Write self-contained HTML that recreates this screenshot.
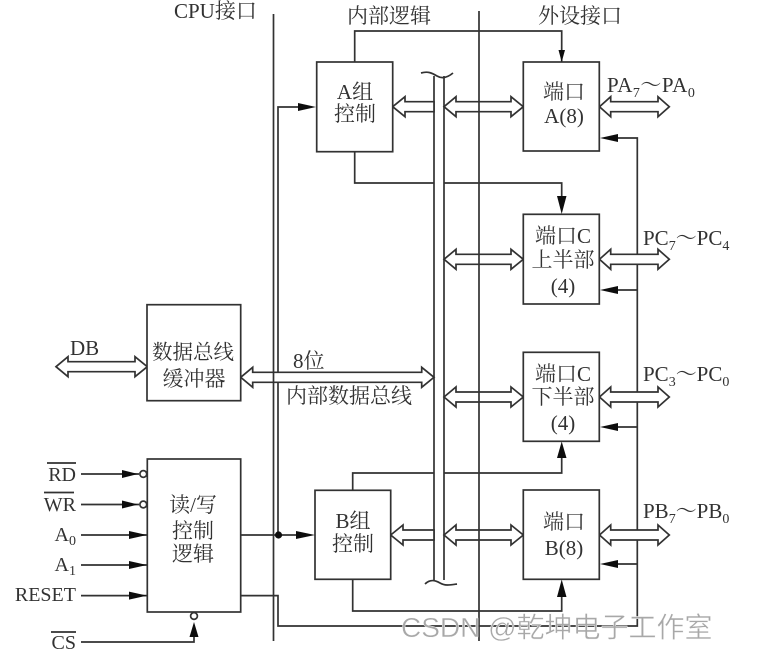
<!DOCTYPE html>
<html>
<head>
<meta charset="utf-8">
<style>
html,body{margin:0;padding:0;background:#fff;width:768px;height:659px;overflow:hidden}
svg{display:block}
text{font-family:"Liberation Serif","Noto Serif CJK SC",serif;font-size:21px;fill:#333}
.l{stroke:#333;stroke-width:1.7;fill:none}
.b{stroke:#333;stroke-width:1.7;fill:#fff}
.h{fill:#111;stroke:none}
.wm{font-family:"Liberation Sans","Noto Sans CJK SC",sans-serif;font-size:28px;fill:#a8a8a8;stroke:#fff;stroke-width:.4}
</style>
</head>
<body>
<svg width="768" height="659" viewBox="0 0 768 659" xmlns="http://www.w3.org/2000/svg">
<defs>
<filter id="s" x="0" y="0" width="100%" height="100%"><feGaussianBlur stdDeviation="0.35"/></filter>
</defs>
<g filter="url(#s)">
<!-- thin connectors -->
<g class="l">
<path d="M354.7 62V31H561.7V62"/>
<path d="M354.7 151V183H434M444 183H561.7V200"/>
<path d="M352.7 490V473H434M444 473H561.7V455"/>
<path d="M352.7 579V611H561.7V595"/>
<path d="M278 535V107H302"/>
<path d="M241 535H302"/>
<path d="M241 595.6H278V626H637.3V138H612"/>
<path d="M612 290H637M612 427H637M612 564H637"/>
<path d="M81 474H139M81 504.5H139M81 535H147M81 565H147M81 595.6H147"/>
<path d="M81 642H194V625"/>
</g>
<!-- bus -->
<g class="l">
<path d="M434 76V580M444 76V580"/>
<path d="M421 73C428 71 432 73 437 76C442 79 447 78 453 73"/>
<path d="M425 584C430 579 435 580 440 583C445 586 450 585 457 584"/>
</g>
<!-- double arrows -->
<g class="b">
<path d="M56 366.7L68 356.7V361.7H135V356.7L147.3 366.7L135 376.7V371.7H68V376.7Z"/>
<path d="M240.7 377.3L252.7 367.3V372.3H421.7V367.3L434 377.3L421.7 387.3V382.3H252.7V387.3Z"/>
<path d="M392.7 106.7L405 96.7V101.7H434V111.7H405V116.7Z"/>
<path d="M390.7 535L403 525V530H434V540H403V545Z"/>
<path d="M444 106.7L456 96.7V101.7H511V96.7L523.3 106.7L511 116.7V111.7H456V116.7Z"/>
<path d="M444 259.3L456 249.3V254.3H511V249.3L523.3 259.3L511 269.3V264.3H456V269.3Z"/>
<path d="M444 397L456 387V392H511V387L523.3 397L511 407V402H456V407Z"/>
<path d="M444 535L456 525V530H511V525L523.3 535L511 545V540H456V545Z"/>
<path d="M599.5 106.7L610.7 96.7V101.7H658V96.7L669.3 106.7L658 116.7V111.7H610.7V116.7Z"/>
<path d="M599.5 259.3L610.7 249.3V254.3H658V249.3L669.3 259.3L658 269.3V264.3H610.7V269.3Z"/>
<path d="M599.5 397L610.7 387V392H658V387L669.3 397L658 407V402H610.7V407Z"/>
<path d="M599.5 535L610.7 525V530H658V525L669.3 535L658 545V540H610.7V545Z"/>
</g>
<!-- system dividers -->
<path class="l" d="M273.5 14V641M479 11V641"/>
<!-- boxes -->
<g class="b">
<rect x="147" y="304.7" width="93.7" height="96"/>
<rect x="147.3" y="459" width="93.4" height="153"/>
<rect x="316.7" y="62" width="76" height="89.7"/>
<rect x="315" y="490.3" width="75.7" height="89"/>
<rect x="523.3" y="62" width="76" height="89"/>
<rect x="523.3" y="214.3" width="76" height="89.7"/>
<rect x="523.3" y="352.3" width="76" height="89"/>
<rect x="523.3" y="490" width="76" height="89.3"/>
</g>
<!-- arrowheads -->
<g class="h">
<path d="M316 107L298 103V111Z"/>
<path d="M315 535L296 531V539Z"/>
<path d="M561.7 214L557 196H566.5Z"/>
<path d="M561.7 62L558.5 50H565Z"/>
<path d="M561.7 441.5L557 458H566.5Z"/>
<path d="M561.7 579.5L557 597H566.5Z"/>
<path d="M600 138L618 134V142Z"/>
<path d="M600 290L618 286V294Z"/>
<path d="M600 427L618 423V431Z"/>
<path d="M600 564L618 560V568Z"/>
<path d="M138 474L122 470V478Z"/>
<path d="M138 504.5L122 500.5V508.5Z"/>
<path d="M147 535L129 531V539Z"/>
<path d="M147 565L129 561V569Z"/>
<path d="M147 595.6L129 591.6V599.6Z"/>
<path d="M194 622L189.5 637H198.5Z"/>
</g>
<circle cx="278.5" cy="535" r="3.6" fill="#111"/>
<g class="b">
<circle cx="143.3" cy="474" r="3.4"/>
<circle cx="143.3" cy="504.5" r="3.4"/>
<circle cx="194" cy="616" r="3.4"/>
</g>
<!-- labels -->
<text x="174" y="18">CPU接口</text>
<text x="347" y="23">内部逻辑</text>
<text x="538" y="23">外设接口</text>

<g text-anchor="middle">
<text x="355" y="99">A组</text>
<text x="355" y="121">控制</text>
<text x="353" y="528">B组</text>
<text x="353" y="551">控制</text>
<text x="564" y="99">端口</text>
<text x="564" y="123">A(8)</text>
<text x="563" y="243">端口C</text>
<text x="563" y="267">上半部</text>
<text x="563" y="293">(4)</text>
<text x="563" y="381">端口C</text>
<text x="563" y="404">下半部</text>
<text x="563" y="430">(4)</text>
<text x="564" y="529">端口</text>
<text x="564" y="555">B(8)</text>
<text x="193" y="359" style="font-size:20.5px">数据总线</text>
<text x="194" y="386">缓冲器</text>
<text x="193" y="512">读/写</text>
<text x="193" y="538">控制</text>
<text x="193" y="561">逻辑</text>
</g>

<text x="70" y="355">DB</text>
<text x="293" y="368">8位</text>
<text x="286" y="403">内部数据总线</text>

<text x="607" y="92" letter-spacing="0.5">PA<tspan font-size="14" dy="5">7</tspan><tspan dy="-5">～PA</tspan><tspan font-size="14" dy="5">0</tspan></text>
<text x="643" y="245">PC<tspan font-size="14" dy="5">7</tspan><tspan dy="-5">～PC</tspan><tspan font-size="14" dy="5">4</tspan></text>
<text x="643" y="381">PC<tspan font-size="14" dy="5">3</tspan><tspan dy="-5">～PC</tspan><tspan font-size="14" dy="5">0</tspan></text>
<text x="643" y="518">PB<tspan font-size="14" dy="5">7</tspan><tspan dy="-5">～PB</tspan><tspan font-size="14" dy="5">0</tspan></text>

<g text-anchor="end" style="font-size:20px">
<text x="76" y="481" style="font-size:20px">RD</text>
<text x="76" y="511" style="font-size:20px">WR</text>
<text x="76" y="541" style="font-size:20px">A<tspan font-size="14" dy="4">0</tspan></text>
<text x="76" y="571" style="font-size:20px">A<tspan font-size="14" dy="4">1</tspan></text>
<text x="76" y="601" style="font-size:20px">RESET</text>
<text x="76" y="649" style="font-size:20px">CS</text>
</g>
<path class="l" d="M47 463H76M44 492.5H74M51 632H76"/>

<text class="wm" x="401" y="637">CSDN @乾坤电子工作室</text>
</g>
</svg>
</body>
</html>
